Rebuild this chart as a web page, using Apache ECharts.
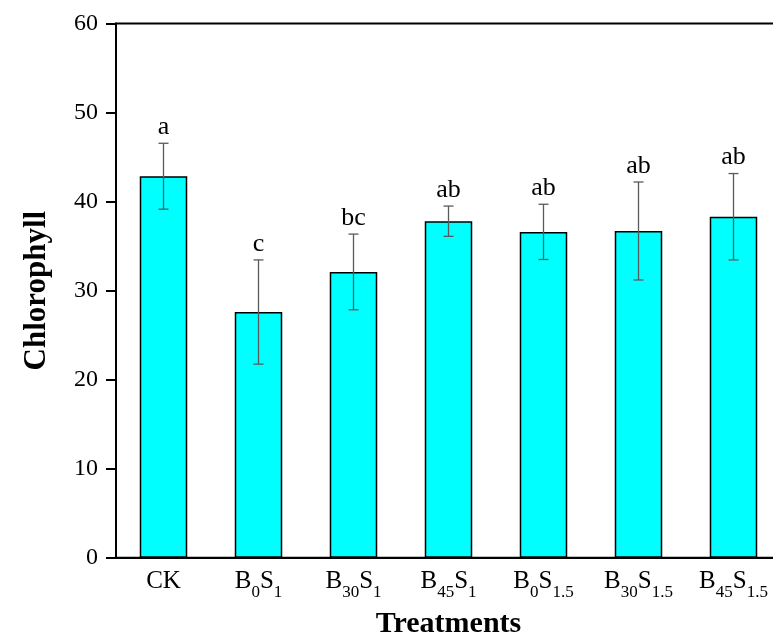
<!DOCTYPE html>
<html>
<head>
<meta charset="utf-8">
<script src="https://cdn.jsdelivr.net/npm/echarts@6/dist/echarts.min.js"></script>
<style>
html,body{margin:0;padding:0;background:#fff;overflow:hidden;width:773px;height:635px;}
#chart{width:800px;height:635px;}
</style>
</head>
<body>
<div id="chart"></div>
<script>
const categories = ['CK', 'B0S1', 'B30S1', 'B45S1', 'B0S1.5', 'B30S1.5', 'B45S1.5'];
const categoryLabels = [
  '{m|CK}',
  '{m|B}{s|0}{m|S}{s|1}',
  '{m|B}{s|30}{m|S}{s|1}',
  '{m|B}{s|45}{m|S}{s|1}',
  '{m|B}{s|0}{m|S}{s|1.5}',
  '{m|B}{s|30}{m|S}{s|1.5}',
  '{m|B}{s|45}{m|S}{s|1.5}'
];
const means = [42.85, 27.6, 32.1, 37.8, 36.6, 36.7, 38.3];
const errors = [3.7, 5.85, 4.25, 1.7, 3.1, 5.5, 4.85];
const letters = ['a', 'c', 'bc', 'ab', 'ab', 'ab', 'ab'];
const yTicks = [0, 10, 20, 30, 40, 50, 60];

const FONT = '"Liberation Serif", "Times New Roman", serif';
const errData = means.map((m, i) => [i, m - errors[i], m + errors[i]]);

const chart = echarts.init(document.getElementById('chart'));
chart.setOption({
  animation: false,
  backgroundColor: '#fff',
  grid: {
    left: 116, top: 23.5, width: 665, height: 534.3,
    outerBoundsMode: 'none', containLabel: false,
    show: true, borderColor: '#000', borderWidth: 2, backgroundColor: 'transparent'
  },
  xAxis: {
    type: 'category',
    data: categories,
    name: 'Treatments',
    nameLocation: 'middle',
    nameGap: 51,
    nameTextStyle: { fontFamily: FONT, fontSize: 30, fontWeight: 'bold', color: '#000' },
    axisLine: { lineStyle: { color: '#000', width: 2 } },
    axisTick: { show: false },
    axisLabel: {
      margin: 15,
      interval: 0,
      formatter: (v, i) => categoryLabels[i],
      rich: {
        m: { fontFamily: FONT, fontSize: 25, color: '#000', lineHeight: 25, padding: [0, 0, 7, 0] },
        s: { fontFamily: FONT, fontSize: 17, color: '#000', lineHeight: 17, padding: [15, 0, 0, 0] }
      }
    }
  },
  yAxis: {
    type: 'value',
    min: yTicks[0],
    max: yTicks[yTicks.length - 1],
    interval: 10,
    name: 'Chlorophyll',
    nameLocation: 'middle',
    nameGap: 64,
    nameRotate: 90,
    nameTextStyle: { fontFamily: FONT, fontSize: 31, fontWeight: 'bold', color: '#000' },
    axisLine: { show: true, lineStyle: { color: '#000', width: 2 } },
    axisTick: { show: true, inside: false, length: 10, lineStyle: { color: '#000', width: 2 } },
    axisLabel: { margin: 18, fontFamily: FONT, fontSize: 24, color: '#000' },
    splitLine: { show: false }
  },
  series: [
    {
      type: 'bar',
      data: means,
      barWidth: '50%',
      itemStyle: { color: '#00FFFF', borderColor: '#000', borderWidth: 1.5 }
    },
    {
      type: 'custom',
      data: errData,
      z: 10,
      renderItem: function (params, api) {
        const x = api.value(0);
        const lo = api.coord([x, api.value(1)]);
        const hi = api.coord([x, api.value(2)]);
        const cap = 5;
        const ls = { stroke: '#5a5a5a', lineWidth: 1.3 };
        return {
          type: 'group',
          children: [
            { type: 'line', shape: { x1: hi[0], y1: hi[1], x2: lo[0], y2: lo[1] }, style: ls },
            { type: 'line', shape: { x1: hi[0] - cap, y1: hi[1], x2: hi[0] + cap, y2: hi[1] }, style: ls },
            { type: 'line', shape: { x1: lo[0] - cap, y1: lo[1], x2: lo[0] + cap, y2: lo[1] }, style: ls },
            {
              type: 'text',
              style: {
                text: letters[params.dataIndex],
                x: hi[0], y: hi[1] - 3,
                align: 'center', verticalAlign: 'bottom',
                fontFamily: FONT, fontSize: 26, fill: '#000'
              }
            }
          ]
        };
      }
    }
  ]
});
</script>
</body>
</html>
